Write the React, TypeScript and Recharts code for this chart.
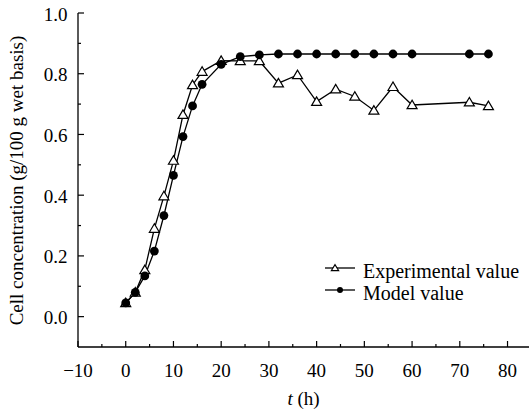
import { CartesianGrid, Legend, Line, LineChart, XAxis, YAxis } from "recharts"

// sampling times (h)
const hours = [0, 2, 4, 6, 8, 10, 12, 14, 16, 20, 24, 28, 32, 36, 40, 44, 48, 52, 56, 60, 72, 76]

// cell concentration, g/100 g wet basis
const experimental = [
  0.045, 0.08, 0.154, 0.29, 0.397, 0.514, 0.665, 0.763, 0.807, 0.843, 0.842,
  0.842, 0.769, 0.796, 0.708, 0.749, 0.725, 0.679, 0.757, 0.697, 0.706, 0.694,
]
const model = [
  0.045, 0.08, 0.134, 0.216, 0.333, 0.465, 0.593, 0.694, 0.765, 0.831, 0.856,
  0.862, 0.865, 0.865, 0.865, 0.865, 0.865, 0.865, 0.865, 0.865, 0.865, 0.865,
]

const xTicks = [-10, -5, 0, 5, 10, 15, 20, 25, 30, 35, 40, 45, 50, 55, 60, 65, 70, 75, 80]
const yTicks = [0, 0.1, 0.2, 0.3, 0.4, 0.5, 0.6, 0.7, 0.8, 0.9, 1.0]

const seriesNames = ["Experimental value", "Model value"]

const chartData = hours.map((t, i) => ({ t, exp: experimental[i], model: model[i] }))

const FONT = "'Liberation Serif', 'Times New Roman', serif"
const INK = "#000"

function fmtX(v: number): string {
  return v < 0 ? `\u2212${Math.abs(v)}` : `${v}`
}

function XTick(props: any) {
  const { x, y, payload } = props
  const v = payload.value as number
  const major = v % 10 === 0
  return (
    <g>
      <line x1={x} x2={x} y1={y} y2={y - (major ? 6 : 3)} stroke={INK} strokeWidth={1.2} />
      {major && (
        <text x={x} y={y + 30} textAnchor="middle" fontSize={19} fontFamily={FONT} fill={INK}>
          {fmtX(v)}
        </text>
      )}
    </g>
  )
}

function YTick(props: any) {
  const { x, y, payload } = props
  const v = payload.value as number
  const major = Math.round(v * 10) % 2 === 0
  return (
    <g>
      <line x1={x} x2={x + (major ? 6 : 3)} y1={y} y2={y} stroke={INK} strokeWidth={1.2} />
      {major && (
        <text x={x - 10.5} y={y + 7.5} textAnchor="end" fontSize={19} fontFamily={FONT} fill={INK}>
          {v.toFixed(1)}
        </text>
      )}
    </g>
  )
}

function TriangleDot(props: any) {
  const { cx, cy, key } = props
  if (cx == null || cy == null) return null
  return (
    <polygon
      key={key}
      points={`${cx},${cy - 4.8} ${cx - 5},${cy + 3.7} ${cx + 5},${cy + 3.7}`}
      fill="#fff"
      stroke={INK}
      strokeWidth={1.2}
    />
  )
}

function CircleDot(props: any) {
  const { cx, cy, key } = props
  if (cx == null || cy == null) return null
  return <circle key={key} cx={cx} cy={cy} r={4.4} fill={INK} />
}

function LegendBox() {
  return (
    <svg width={209} height={50} style={{ display: "block" }}>
      <line x1={5} x2={35} y1={10} y2={10} stroke={INK} strokeWidth={1.3} />
      <polygon points="15,6.6 11.3,12.6 18.7,12.6" fill="#fff" stroke={INK} strokeWidth={1.1} />
      <text x={43} y={20} fontSize={20} fontFamily={FONT} fill={INK}>
        {seriesNames[0]}
      </text>
      <line x1={5} x2={35} y1={32} y2={32} stroke={INK} strokeWidth={1.3} />
      <circle cx={20} cy={32} r={3} fill={INK} />
      <text x={43} y={42} fontSize={20} fontFamily={FONT} fill={INK}>
        {seriesNames[1]}
      </text>
    </svg>
  )
}

export default function App() {
  return (
    <div style={{ position: "absolute", left: 0, top: 0, width: 529, height: 411, background: "#fff" }}>
      <LineChart width={529} height={411} data={chartData} margin={{ top: 13, right: 0, bottom: 0, left: 0 }}>
        <CartesianGrid stroke="none" />
        <XAxis
          dataKey="t"
          type="number"
          domain={[-10, 84.5]}
          ticks={xTicks}
          interval={0}
          height={64}
          tickSize={0}
          tickMargin={0}
          tickLine={false}
          axisLine={{ stroke: INK, strokeWidth: 1.3 }}
          tick={<XTick />}
          allowDataOverflow
          label={{
            content: () => (
              <text x={303.5} y={405} textAnchor="middle" fontSize={19} fontFamily={FONT} fill={INK}>
                <tspan fontStyle="italic">t</tspan> (h)
              </text>
            ),
          }}
        />
        <YAxis
          type="number"
          domain={[-0.1, 1.0]}
          ticks={yTicks}
          interval={0}
          width={78}
          tickSize={0}
          tickMargin={0}
          tickLine={false}
          axisLine={{ stroke: INK, strokeWidth: 1.3 }}
          tick={<YTick />}
          allowDataOverflow
          label={{
            content: () => (
              <text
                x={23}
                y={180.5}
                transform="rotate(-90, 23, 180.5)"
                textAnchor="middle"
                fontSize={19}
                fontFamily={FONT}
                fill={INK}
              >
                Cell concentration (g/100 g wet basis)
              </text>
            ),
          }}
        />
        <Legend
          layout="horizontal"
          verticalAlign="middle"
          align="center"
          content={() => <LegendBox />}
          wrapperStyle={{ left: 320, top: 258, width: 209, height: 50 }}
        />
        <Line
          type="linear"
          dataKey="exp"
          name={seriesNames[0]}
          stroke={INK}
          strokeWidth={1.3}
          dot={TriangleDot}
          activeDot={false}
          isAnimationActive={false}
        />
        <Line
          type="linear"
          dataKey="model"
          name={seriesNames[1]}
          stroke={INK}
          strokeWidth={1.3}
          dot={CircleDot}
          activeDot={false}
          isAnimationActive={false}
        />
      </LineChart>
    </div>
  )
}
